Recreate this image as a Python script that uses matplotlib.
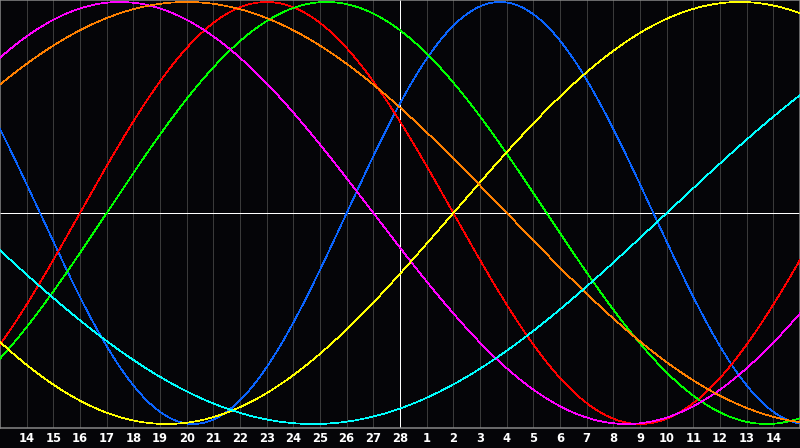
import numpy as np
import matplotlib
matplotlib.use("Agg")
import matplotlib.pyplot as plt

# ---- data ----
day_labels = ["14", "15", "16", "17", "18", "19", "20", "21", "22", "23", "24",
              "25", "26", "27", "28", "1", "2", "3", "4", "5", "6", "7", "8",
              "9", "10", "11", "12", "13", "14"]
today_index = 14                      # "28" is the marked day
days_since_birth_today = 28292
cycle_names = ["physical", "emotional", "intellectual", "intuitive",
               "aesthetic", "awareness", "spiritual"]
cycle_lengths = [23, 28, 33, 38, 43, 48, 53]
cycle_colors = ["#0a64ff", "#ff0000", "#00ff00", "#ff00ff",
                "#ffff00", "#ff8000", "#00ffff"]

# ---- figure ----
W, H, DPI = 800, 448, 100
PX = 72 / DPI  # one pixel in points
fig = plt.figure(figsize=(W / DPI, H / DPI), dpi=DPI, facecolor="#050508")
ax = fig.add_axes([0, 20 / H, 1, 428 / H], facecolor="#050508")

offsets = np.arange(len(day_labels)) - today_index
x_min, x_max = offsets[0] - 1, offsets[-1] + 1
ax.set_xlim(x_min, x_max)
ax.set_ylim(-1 - 4 / 211, 1 + 2 / 211)

# day grid
for o in offsets:
    if o == 0:
        continue
    ax.axvline(o, color="#3a3a3a", lw=PX, zorder=1, antialiased=False)

# curves
t = np.linspace(x_min, x_max, 801)
for name, P, c in zip(cycle_names, cycle_lengths, cycle_colors):
    y = np.sin(2 * np.pi * (days_since_birth_today + t) / P)
    ax.plot(t, y, color=c, lw=0.7 * PX, zorder=3, antialiased=False,
            solid_joinstyle="miter", label=name)

# today + zero lines
ax.axvline(0, color="white", lw=PX, zorder=2, antialiased=False)
ax.axhline(0, color="white", lw=PX, zorder=2, antialiased=False)

for s in ax.spines.values():
    s.set_color("#8a8a8a")
    s.set_linewidth(1.5 * PX)
ax.set_xticks([])
ax.set_yticks([])

# labels below plot
for o, lab in zip(offsets, day_labels):
    ax.annotate(lab, xy=(o, 0), xycoords=("data", "axes fraction"),
                xytext=(0, -10.5), textcoords="offset pixels",
                ha="center", va="center", color="white",
                fontsize=8.3, fontweight="bold", family="DejaVu Sans")

fig.savefig("out.png", dpi=DPI, facecolor=fig.get_facecolor())
